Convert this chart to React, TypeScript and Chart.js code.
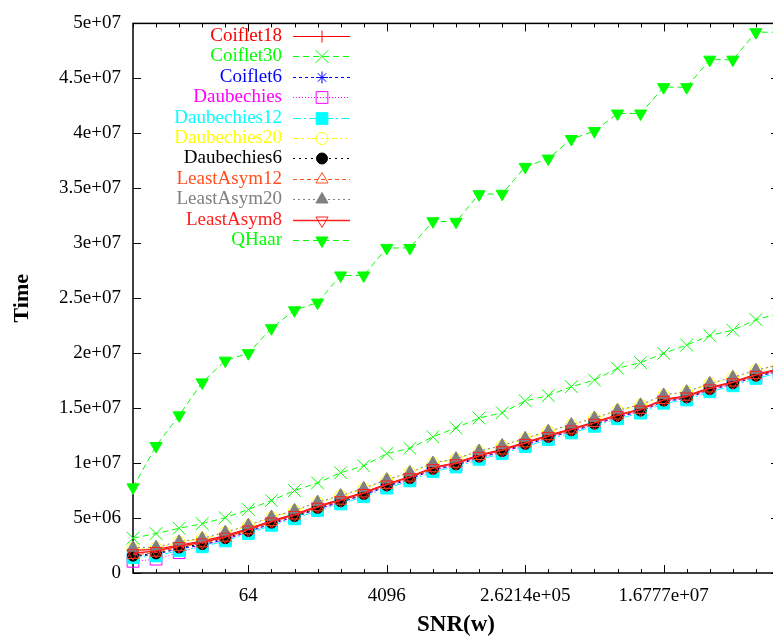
import React, { useEffect, useRef } from 'react';
import { Chart, registerables } from 'chart.js';

Chart.register(...registerables);

// x categories: SNR(w) = 2^e
const EXPONENTS = [1, 2, 3, 4, 5, 6, 7, 8, 9, 10, 11, 12, 13, 14, 15, 16, 17, 18, 19, 20, 21, 22, 23, 24, 25, 26, 27, 28, 29];
const X_MAJOR_TICKS = [6, 12, 18, 24];
const X_TICK_LABELS = ['64', '4096', '2.6214e+05', '1.6777e+07'];
const Y_TICK_VALUES = [0, 5e6, 1e7, 1.5e7, 2e7, 2.5e7, 3e7, 3.5e7, 4e7, 4.5e7, 5e7];
const Y_TICK_LABELS = ['0', '5e+06', '1e+07', '1.5e+07', '2e+07', '2.5e+07', '3e+07', '3.5e+07', '4e+07', '4.5e+07', '5e+07'];

const coiflet18 = [2.05e6, 2.15e6, 2.55e6, 2.9e6, 3.4e6, 4.05e6, 4.75e6, 5.35e6, 6.1e6, 6.7e6, 7.35e6, 8.1e6, 8.78e6, 9.6e6, 10.05e6, 10.72e6, 11.25e6, 11.88e6, 12.52e6, 13.12e6, 13.72e6, 14.4e6, 14.92e6, 15.8e6, 16.12e6, 16.86e6, 17.4e6, 18.08e6, 18.58e6];
const coiflet30 = [3.17e6, 3.59e6, 4.07e6, 4.49e6, 5.03e6, 5.78e6, 6.59e6, 7.5e6, 8.2e6, 9.12e6, 9.75e6, 10.87e6, 11.34e6, 12.39e6, 13.2e6, 14.1e6, 14.58e6, 15.66e6, 16.14e6, 16.95e6, 17.55e6, 18.63e6, 19.14e6, 19.98e6, 20.74e6, 21.6e6, 22.09e6, 23.05e6, 23.6e6];
const coiflet6 = [1.5e6, 1.7e6, 2.22e6, 2.53e6, 3.07e6, 3.73e6, 4.48e6, 5.08e6, 5.83e6, 6.43e6, 7.09e6, 7.87e6, 8.53e6, 9.38e6, 9.79e6, 10.49e6, 11.0e6, 11.65e6, 12.29e6, 12.89e6, 13.49e6, 14.18e6, 14.69e6, 15.59e6, 15.89e6, 16.64e6, 17.18e6, 17.85e6, 18.35e6];
const daubechies = [1.06e6, 1.26e6, 1.85e6, 2.5e6, 3.05e6, 3.72e6, 4.47e6, 5.08e6, 5.83e6, 6.43e6, 7.09e6, 7.87e6, 8.53e6, 9.38e6, 9.79e6, 10.49e6, 11.0e6, 11.65e6, 12.29e6, 12.89e6, 13.49e6, 14.18e6, 14.69e6, 15.59e6, 15.89e6, 16.64e6, 17.18e6, 17.85e6, 18.35e6];
const daubechies12 = [1.4e6, 1.55e6, 2.05e6, 2.38e6, 2.92e6, 3.58e6, 4.33e6, 4.93e6, 5.68e6, 6.28e6, 6.94e6, 7.72e6, 8.38e6, 9.23e6, 9.64e6, 10.34e6, 10.85e6, 11.5e6, 12.14e6, 12.74e6, 13.34e6, 14.03e6, 14.54e6, 15.44e6, 15.74e6, 16.49e6, 17.03e6, 17.7e6, 18.2e6];
const daubechies20 = [2.2e6, 2.25e6, 2.8e6, 3.1e6, 3.65e6, 4.3e6, 5.05e6, 5.65e6, 6.4e6, 7.0e6, 7.65e6, 8.45e6, 9.1e6, 9.95e6, 10.35e6, 11.05e6, 11.55e6, 12.2e6, 12.85e6, 13.45e6, 14.05e6, 14.75e6, 15.25e6, 16.15e6, 16.45e6, 17.2e6, 17.75e6, 18.4e6, 18.9e6];
const daubechies6 = [1.58e6, 1.78e6, 2.32e6, 2.63e6, 3.17e6, 3.83e6, 4.58e6, 5.18e6, 5.93e6, 6.53e6, 7.19e6, 7.97e6, 8.63e6, 9.48e6, 9.89e6, 10.59e6, 11.1e6, 11.75e6, 12.39e6, 12.99e6, 13.59e6, 14.28e6, 14.79e6, 15.69e6, 15.99e6, 16.74e6, 17.28e6, 17.95e6, 18.45e6];
const leastAsym12 = [1.65e6, 1.85e6, 2.38e6, 2.7e6, 3.22e6, 3.88e6, 4.63e6, 5.23e6, 5.98e6, 6.58e6, 7.24e6, 8.02e6, 8.68e6, 9.53e6, 9.94e6, 10.64e6, 11.15e6, 11.8e6, 12.44e6, 13.04e6, 13.64e6, 14.33e6, 14.84e6, 15.74e6, 16.04e6, 16.79e6, 17.33e6, 18.0e6, 18.5e6];
const leastAsym20 = [2.3e6, 2.35e6, 2.85e6, 3.15e6, 3.7e6, 4.35e6, 5.1e6, 5.7e6, 6.45e6, 7.05e6, 7.7e6, 8.5e6, 9.15e6, 10.0e6, 10.4e6, 11.1e6, 11.6e6, 12.25e6, 12.9e6, 13.5e6, 14.1e6, 14.8e6, 15.3e6, 16.2e6, 16.5e6, 17.25e6, 17.8e6, 18.45e6, 18.95e6];
const leastAsym8 = [1.8e6, 2.0e6, 2.45e6, 2.78e6, 3.3e6, 3.95e6, 4.68e6, 5.28e6, 6.02e6, 6.62e6, 7.28e6, 8.05e6, 8.72e6, 9.55e6, 9.98e6, 10.66e6, 11.18e6, 11.83e6, 12.46e6, 13.06e6, 13.66e6, 14.35e6, 14.86e6, 15.75e6, 16.06e6, 16.8e6, 17.35e6, 18.02e6, 18.52e6];
const qHaar = [7.79e6, 11.55e6, 14.34e6, 17.34e6, 19.32e6, 20.0e6, 22.27e6, 23.9e6, 24.6e6, 27.07e6, 27.07e6, 29.57e6, 29.57e6, 32.0e6, 31.95e6, 34.46e6, 34.5e6, 36.95e6, 37.7e6, 39.48e6, 40.2e6, 41.8e6, 41.8e6, 44.2e6, 44.2e6, 46.7e6, 46.7e6, 49.2e6, 49.2e6];

type SeriesDef = {
  name: string; values: number[]; color: string; dash: number[];
  style: string; radius: number; filled: boolean; rotation: number; width: number;
};

const SERIES: SeriesDef[] = [
  { name: 'Coiflet18', values: coiflet18, color: '#ff0000', dash: [], style: 'cross', radius: 6, filled: false, rotation: 0, width: 1.2 },
  { name: 'Coiflet30', values: coiflet30, color: '#00ff00', dash: [6, 4], style: 'crossRot', radius: 9, filled: false, rotation: 0, width: 1 },
  { name: 'Coiflet6', values: coiflet6, color: '#0000ff', dash: [3, 3], style: 'star', radius: 6, filled: false, rotation: 0, width: 1 },
  { name: 'Daubechies', values: daubechies, color: '#ff00ff', dash: [1, 2], style: 'rect', radius: 8.3, filled: false, rotation: 0, width: 1 },
  { name: 'Daubechies12', values: daubechies12, color: '#00ffff', dash: [8, 3, 2, 3], style: 'rect', radius: 8.3, filled: true, rotation: 0, width: 1 },
  { name: 'Daubechies20', values: daubechies20, color: '#ffff00', dash: [6, 3, 2, 3, 2, 3], style: 'circle', radius: 6, filled: false, rotation: 0, width: 1 },
  { name: 'Daubechies6', values: daubechies6, color: '#000000', dash: [2, 4], style: 'circle', radius: 5.5, filled: true, rotation: 0, width: 1 },
  { name: 'LeastAsym12', values: leastAsym12, color: '#ff5020', dash: [4, 3], style: 'triangle', radius: 7, filled: false, rotation: 0, width: 1 },
  { name: 'LeastAsym20', values: leastAsym20, color: '#808080', dash: [2, 3], style: 'triangle', radius: 7, filled: true, rotation: 0, width: 1 },
  { name: 'LeastAsym8', values: leastAsym8, color: '#ff2020', dash: [], style: 'triangle', radius: 7, filled: false, rotation: 180, width: 1.5 },
  { name: 'QHaar', values: qHaar, color: '#00ff00', dash: [6, 4], style: 'triangle', radius: 7, filled: true, rotation: 180, width: 1 },
];

const SERIF = '"Liberation Serif", "Times New Roman", serif';

function drawMarker(ctx: CanvasRenderingContext2D, s: SeriesDef, x: number, y: number) {
  const r = s.radius;
  ctx.save();
  ctx.setLineDash([]);
  ctx.lineWidth = 1;
  ctx.strokeStyle = s.color;
  ctx.fillStyle = s.color;
  ctx.translate(x, y);
  ctx.rotate((s.rotation * Math.PI) / 180);
  ctx.beginPath();
  if (s.style === 'cross' || s.style === 'star') {
    ctx.moveTo(-r, 0); ctx.lineTo(r, 0); ctx.moveTo(0, -r); ctx.lineTo(0, r);
  }
  if (s.style === 'crossRot' || s.style === 'star') {
    const k = r * Math.SQRT1_2;
    ctx.moveTo(-k, -k); ctx.lineTo(k, k); ctx.moveTo(-k, k); ctx.lineTo(k, -k);
  }
  if (s.style === 'rect') {
    const k = r * Math.SQRT1_2;
    ctx.rect(-k, -k, 2 * k, 2 * k);
  }
  if (s.style === 'circle') {
    ctx.arc(0, 0, r, 0, Math.PI * 2);
  }
  if (s.style === 'triangle') {
    const a = Math.PI / 2;
    for (let i = 0; i < 3; i++) {
      const ang = -a + (i * 2 * Math.PI) / 3;
      const px = Math.cos(ang) * r, py = Math.sin(ang) * r;
      if (i === 0) ctx.moveTo(px, py); else ctx.lineTo(px, py);
    }
    ctx.closePath();
  }
  if (s.filled) ctx.fill();
  ctx.stroke();
  ctx.restore();
}

const framePlugin = {
  id: 'gnuFrame',
  beforeDatasetsDraw(chart: any) {
    const { ctx, chartArea, scales } = chart;
    const { left, right, top, bottom } = chartArea;
    ctx.save();
    ctx.strokeStyle = '#000';
    ctx.lineWidth = 1.5;
    ctx.setLineDash([]);
    ctx.strokeRect(left, top, right - left, bottom - top);
    ctx.lineWidth = 1;
    ctx.beginPath();
    Y_TICK_VALUES.forEach((v) => {
      const py = Math.round(scales.y.getPixelForValue(v)) + 0.5;
      ctx.moveTo(left, py); ctx.lineTo(left + 8, py);
      ctx.moveTo(right, py); ctx.lineTo(right - 8, py);
    });
    EXPONENTS.forEach((e) => {
      const px = Math.round(scales.x.getPixelForValue(e)) + 0.5;
      const len = X_MAJOR_TICKS.includes(e) ? 8 : 4;
      ctx.moveTo(px, bottom); ctx.lineTo(px, bottom - len);
      ctx.moveTo(px, top); ctx.lineTo(px, top + len);
    });
    ctx.stroke();
    ctx.restore();
  },
};

const legendPlugin = {
  id: 'gnuLegend',
  afterDatasetsDraw(chart: any) {
    const { ctx } = chart;
    ctx.save();
    ctx.font = `19px ${SERIF}`;
    ctx.textAlign = 'right';
    ctx.textBaseline = 'middle';
    SERIES.forEach((s, i) => {
      const y = 36 + i * 20.4;
      ctx.fillStyle = s.color;
      ctx.fillText(s.name, 282, y);
      ctx.strokeStyle = s.color;
      ctx.lineWidth = s.width;
      ctx.setLineDash(s.dash);
      ctx.beginPath();
      ctx.moveTo(293, Math.round(y) + 0.5);
      ctx.lineTo(350, Math.round(y) + 0.5);
      ctx.stroke();
      drawMarker(ctx, s, 322, Math.round(y) + 0.5);
    });
    ctx.restore();
  },
};

export default function App() {
  const ref = useRef<HTMLCanvasElement | null>(null);
  useEffect(() => {
    if (!ref.current) return;
    const datasets = SERIES.map((s, i) => ({
      label: s.name,
      data: EXPONENTS.map((e, j) => ({ x: e, y: s.values[j] })),
      borderColor: s.color,
      borderWidth: s.width,
      borderDash: s.dash,
      backgroundColor: s.filled ? s.color : 'rgba(0,0,0,0)',
      pointStyle: s.style,
      pointRadius: s.radius,
      pointRotation: s.rotation,
      pointBorderWidth: 1,
      pointBorderColor: s.color,
      pointBackgroundColor: s.filled ? s.color : 'rgba(0,0,0,0)',
      tension: 0,
      fill: false,
      clip: false as any,
      order: -i,
    }));
    const chart = new Chart(ref.current, {
      type: 'line',
      data: { datasets },
      options: {
        animation: false,
        responsive: false,
        devicePixelRatio: 1,
        layout: { padding: { top: 17, right: 21, left: 0, bottom: 0 } },
        plugins: { legend: { display: false }, tooltip: { enabled: false } },
        scales: {
          x: {
            type: 'linear',
            min: 1,
            max: 29,
            grid: { display: false, drawTicks: false },
            border: { display: false },
            afterBuildTicks: (scale: any) => { scale.ticks = EXPONENTS.map((v) => ({ value: v })); },
            afterFit: (scale: any) => { scale.height = 66; },
            ticks: {
              autoSkip: false,
              maxRotation: 0,
              padding: 12,
              color: '#000',
              font: { family: SERIF, size: 19 },
              callback: (v: any) => {
                const k = X_MAJOR_TICKS.indexOf(Number(v));
                return k >= 0 ? X_TICK_LABELS[k] : '';
              },
            },
            title: { display: true, text: 'SNR(w)', color: '#000', font: { family: SERIF, size: 23, weight: 'bold' }, padding: { top: 0, bottom: 0 } },
          },
          y: {
            type: 'linear',
            min: 0,
            max: 5e7,
            grid: { display: false, drawTicks: false },
            border: { display: false },
            afterBuildTicks: (scale: any) => { scale.ticks = Y_TICK_VALUES.map((v) => ({ value: v })); },
            afterFit: (scale: any) => { scale.width = 133; },
            ticks: {
              padding: 12,
              color: '#000',
              font: { family: SERIF, size: 19 },
              callback: (v: any) => {
                const k = Y_TICK_VALUES.indexOf(Number(v));
                return k >= 0 ? Y_TICK_LABELS[k] : '';
              },
            },
            title: { display: true, text: 'Time', color: '#000', font: { family: SERIF, size: 22, weight: 'bold' }, padding: { top: 9, bottom: 0 } },
          },
        },
      },
      plugins: [framePlugin, legendPlugin],
    } as any);
    return () => chart.destroy();
  }, []);
  return (
    <div style={{ position: 'fixed', left: 0, top: 0, width: 773, height: 639, overflow: 'hidden', background: '#fff' }}>
      <canvas ref={ref} width={800} height={639} style={{ width: 800, height: 639, display: 'block' }} />
    </div>
  );
}
